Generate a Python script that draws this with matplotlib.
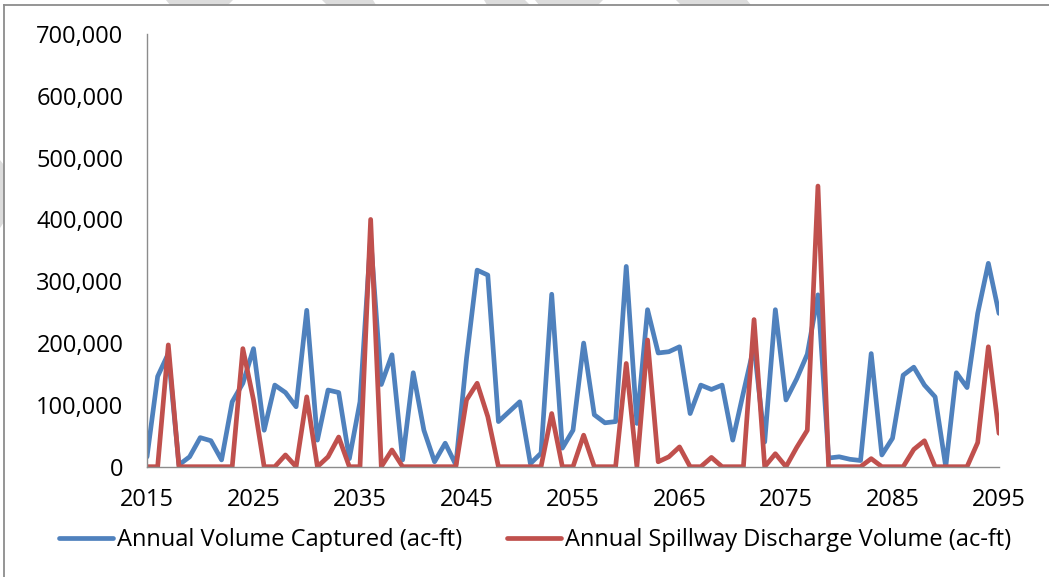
import numpy as np
import matplotlib
matplotlib.use("Agg")
import matplotlib.pyplot as plt
from matplotlib.lines import Line2D
from matplotlib.patches import Polygon
from matplotlib.ticker import FuncFormatter

years = list(range(2015, 2096))

# annual volume captured (ac-ft)
captured = [
    16000, 146000, 183000, 3000, 16000, 47000, 42000, 11000, 105000, 135000,   # 2015-2024
    191000, 59000, 132000, 120000, 97000, 253000, 43000, 124000, 120000, 13000,  # 2025-2034
    105000, 370000, 133000, 181000, 11000, 152000, 59000, 8000, 38000, 3000,     # 2035-2044
    175000, 318000, 310000, 73000, 89000, 105000, 5000, 22000, 279000, 30000,    # 2045-2054
    59000, 200000, 84000, 71000, 73000, 324000, 70000, 254000, 184000, 186000,   # 2055-2064
    194000, 86000, 132000, 125000, 132000, 43000, 120000, 195000, 40000, 254000, # 2065-2074
    108000, 142000, 182000, 278000, 14000, 16000, 12000, 10000, 183000, 19000,   # 2075-2084
    46000, 148000, 161000, 132000, 113000, 0, 152000, 128000, 248000, 329000,    # 2085-2094
    248000,                                                                      # 2095
]

# annual spillway discharge volume (ac-ft)
spillway = [
    0, 0, 197000, 0, 0, 0, 0, 0, 0, 191000,                  # 2015-2024
    108000, 0, 0, 19000, 0, 113000, 0, 16000, 48000, 0,      # 2025-2034
    0, 400000, 0, 27000, 0, 0, 0, 0, 0, 0,                   # 2035-2044
    108000, 135000, 81000, 0, 0, 0, 0, 0, 86000, 0,          # 2045-2054
    0, 51000, 0, 0, 0, 167000, 0, 205000, 8000, 16000,       # 2055-2064
    32000, 0, 0, 15000, 0, 0, 0, 238000, 0, 21000,           # 2065-2074
    0, 31000, 59000, 454000, 0, 0, 0, 0, 13000, 0,           # 2075-2084
    0, 0, 28000, 42000, 0, 0, 0, 0, 39000, 194000,           # 2085-2094
    54000,                                                   # 2095
]

xtick_years = list(range(2015, 2096, 10))
ytick_values = list(range(0, 700001, 100000))

assert len(captured) == len(years) and len(spillway) == len(years)

blue = "#4F81BD"
red = "#C0504D"
plt.rcParams["font.family"] = ["Open Sans", "DejaVu Sans"]

W, H = 1049, 577
fig = plt.figure(figsize=(W / 100, H / 100), dpi=100)
ax = fig.add_axes([147 / W, 1 - 466.7 / H, (999 - 147) / W, (466.7 - 34) / H])

ax.plot(years, captured, color=blue, lw=3.4, solid_joinstyle="round",
        solid_capstyle="round", label="Annual Volume Captured (ac-ft)")
ax.plot(years, spillway, color=red, lw=3.4, solid_joinstyle="round",
        solid_capstyle="round", label="Annual Spillway Discharge Volume (ac-ft)")

ax.set_xlim(years[0], years[-1])
ax.set_ylim(0, 700000)
ax.set_xticks(xtick_years)
ax.set_yticks(ytick_values)
ax.yaxis.set_major_formatter(FuncFormatter(lambda v, p: f"{int(v):,}"))
ax.tick_params(axis="both", length=0, labelsize=17, colors="black")
ax.tick_params(axis="y", pad=17)
ax.tick_params(axis="x", pad=15)

for side in ("top", "right"):
    ax.spines[side].set_visible(False)
for side in ("left", "bottom"):
    ax.spines[side].set_color("#8c8c8c")
    ax.spines[side].set_linewidth(1.0)

leg = fig.legend(loc="center", bbox_to_anchor=(535 / W, 1 - 540 / H), ncol=2,
                 frameon=False, fontsize=17, handlelength=2.3, handletextpad=0.15,
                 columnspacing=1.9, borderpad=0)

# chart frame (left and top edges)
fig.add_artist(Line2D([4 / W, 4 / W], [0, 1 - 5 / H], transform=fig.transFigure,
                      color="#8c8c8c", lw=1.3))
fig.add_artist(Line2D([4 / W, 1], [1 - 5 / H, 1 - 5 / H], transform=fig.transFigure,
                      color="#8c8c8c", lw=1.3))

# faint watermark fragments along the top and left edges
fragments = [
    [(166, 0), (233, 0), (228, 5), (170, 5)],
    [(322, 0), (373, 0), (376, 5), (327, 5)],
    [(484, 0), (525, 0), (530, 5), (487, 5)],
    [(535, 0), (603, 0), (598, 5), (539, 5)],
    [(676, 0), (747, 0), (751, 5), (681, 5)],
    [(0, 160), (4, 165), (4, 222), (0, 228)],
]
for pts in fragments:
    fig.add_artist(Polygon([(x / W, 1 - y / H) for x, y in pts], closed=True,
                           transform=fig.transFigure, facecolor="#dcdcdc",
                           edgecolor="none"))

fig.savefig("out.png", dpi=100, facecolor="white")
